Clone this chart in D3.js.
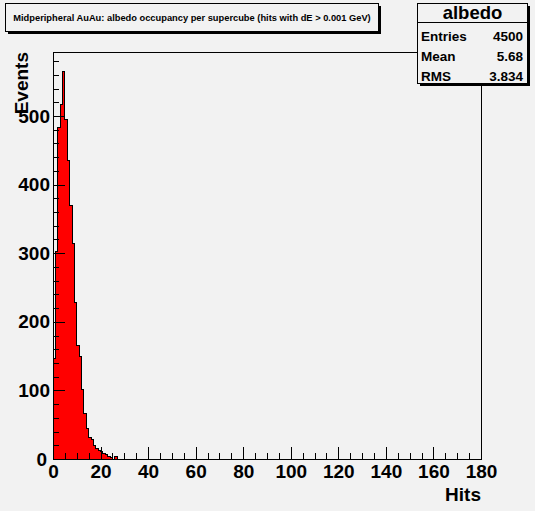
<!DOCTYPE html>
<html>
<head>
<meta charset="utf-8">
<script src="https://cdn.jsdelivr.net/npm/d3@7"></script>
<style>
  body { margin: 0; background: #f2f2f2; }
  svg { display: block; font-family: "Liberation Sans", Arial, Helvetica, sans-serif; font-weight: bold; }
</style>
</head>
<body>
<div id="chart"></div>
<script>
// Histogram contents: one bin per hit count, starting at 0
var binCounts = [146, 302, 483, 517, 565, 495, 435, 370, 314, 228, 165, 149, 101, 67,
                 45, 31, 28, 20, 15, 13, 11, 8, 6, 3, 2, 0, 3];
var xTicks = [0, 20, 40, 60, 80, 100, 120, 140, 160, 180];
var yTicks = [0, 100, 200, 300, 400, 500];
var statLabels = ["Entries", "Mean", "RMS"];
var statValues = ["4500", "5.68", "3.834"];
var titleText = "Midperipheral AuAu: albedo occupancy per supercube (hits with dE > 0.001 GeV)";

var width = 535, height = 511;
var frame = { left: 53, right: 481, top: 52, bottom: 459 };

var svg = d3.select("#chart").append("svg")
  .attr("width", width)
  .attr("height", height);

svg.append("rect").attr("width", width).attr("height", height).attr("fill", "#f2f2f2");

var x = d3.scaleLinear().domain([0, 180]).range([frame.left, frame.right]);
var y = d3.scaleLinear().domain([0, d3.max(binCounts) * 1.05]).range([frame.bottom, frame.top]);

// frame
svg.append("rect")
  .attr("x", frame.left + 0.5).attr("y", frame.top + 0.5)
  .attr("width", frame.right - frame.left).attr("height", frame.bottom - frame.top)
  .attr("fill", "#f2f2f2").attr("stroke", "#000").attr("stroke-width", 1);

// histogram fill
svg.append("g").attr("shape-rendering", "crispEdges").selectAll("rect")
  .data(binCounts)
  .enter().append("rect")
  .attr("x", function(d, i) { return x(i); })
  .attr("width", function(d, i) { return x(i + 1) - x(i) + 0.5; })
  .attr("y", function(d) { return y(d); })
  .attr("height", function(d) { return y(0) - y(d); })
  .attr("fill", "#ff0000");

// histogram outline (step)
var pts = [[0, 0]];
binCounts.forEach(function(d, i) { pts.push([i, d]); pts.push([i + 1, d]); });
pts.push([binCounts.length, 0]);
svg.append("path")
  .attr("d", d3.line().x(function(p) { return x(p[0]); }).y(function(p) { return y(p[1]); })(pts))
  .attr("fill", "none").attr("stroke", "#000").attr("stroke-width", 1)
  .attr("shape-rendering", "crispEdges");

// axes: minor ticks
svg.append("g")
  .attr("transform", "translate(0," + frame.bottom + ")")
  .call(d3.axisBottom(x).tickValues(d3.range(0, 181, 5)).tickSize(-6).tickFormat(""))
  .call(function(g) { g.select(".domain").remove(); });
svg.append("g")
  .attr("transform", "translate(" + frame.left + ",0)")
  .call(d3.axisLeft(y).tickValues(d3.range(0, 581, 20)).tickSize(-6).tickFormat(""))
  .call(function(g) { g.select(".domain").remove(); });

// axes: major ticks + labels
var xAxis = svg.append("g")
  .attr("transform", "translate(0," + frame.bottom + ")")
  .call(d3.axisBottom(x).tickValues(xTicks).tickSize(-12).tickPadding(6))
  .call(function(g) { g.select(".domain").remove(); });
xAxis.selectAll("text").attr("font-size", 19).attr("font-family", null).attr("fill", "#000");

var yAxis = svg.append("g")
  .attr("transform", "translate(" + frame.left + ",0)")
  .call(d3.axisLeft(y).tickValues(yTicks).tickSize(-12).tickPadding(3))
  .call(function(g) { g.select(".domain").remove(); });
yAxis.selectAll("text").attr("font-size", 19).attr("font-family", null).attr("fill", "#000");
yAxis.selectAll(".tick").filter(function(d) { return d === 0; }).select("text")
  .attr("dy", "0.35em").attr("x", -6);

svg.selectAll(".tick line").attr("stroke", "#000").attr("shape-rendering", "crispEdges");

// axis titles
svg.append("text")
  .attr("x", frame.right).attr("y", 501)
  .attr("text-anchor", "end").attr("font-size", 19)
  .text("Hits");
svg.append("text")
  .attr("transform", "translate(28," + frame.top + ") rotate(-90)")
  .attr("text-anchor", "end").attr("font-size", 19)
  .text("Events");

// title box with shadow
svg.append("rect").attr("x", 8).attr("y", 6).attr("width", 373).attr("height", 28).attr("fill", "#000");
svg.append("rect").attr("x", 5.5).attr("y", 3.5).attr("width", 373).attr("height", 28)
  .attr("fill", "#f2f2f2").attr("stroke", "#000");
svg.append("text")
  .attr("x", 192).attr("y", 21).attr("text-anchor", "middle").attr("font-size", 9.3)
  .text(titleText);

// stats box with shadow
svg.append("rect").attr("x", 420).attr("y", 6).attr("width", 110).attr("height", 80).attr("fill", "#000");
svg.append("rect").attr("x", 417.5).attr("y", 3.5).attr("width", 110).attr("height", 80)
  .attr("fill", "#f2f2f2").attr("stroke", "#000");
svg.append("line").attr("x1", 417.5).attr("x2", 527.5).attr("y1", 22.5).attr("y2", 22.5).attr("stroke", "#000");
svg.append("text")
  .attr("x", 472.5).attr("y", 19).attr("text-anchor", "middle").attr("font-size", 18.5)
  .text("albedo");
var stats = svg.append("g").selectAll("g")
  .data(statLabels)
  .enter().append("g")
  .attr("transform", function(d, i) { return "translate(0," + (41 + i * 20) + ")"; });
stats.append("text").attr("x", 421).attr("font-size", 13.5).text(function(d) { return d; });
stats.append("text").attr("x", 523).attr("text-anchor", "end").attr("font-size", 13.5)
  .text(function(d, i) { return statValues[i]; });
</script>
</body>
</html>
